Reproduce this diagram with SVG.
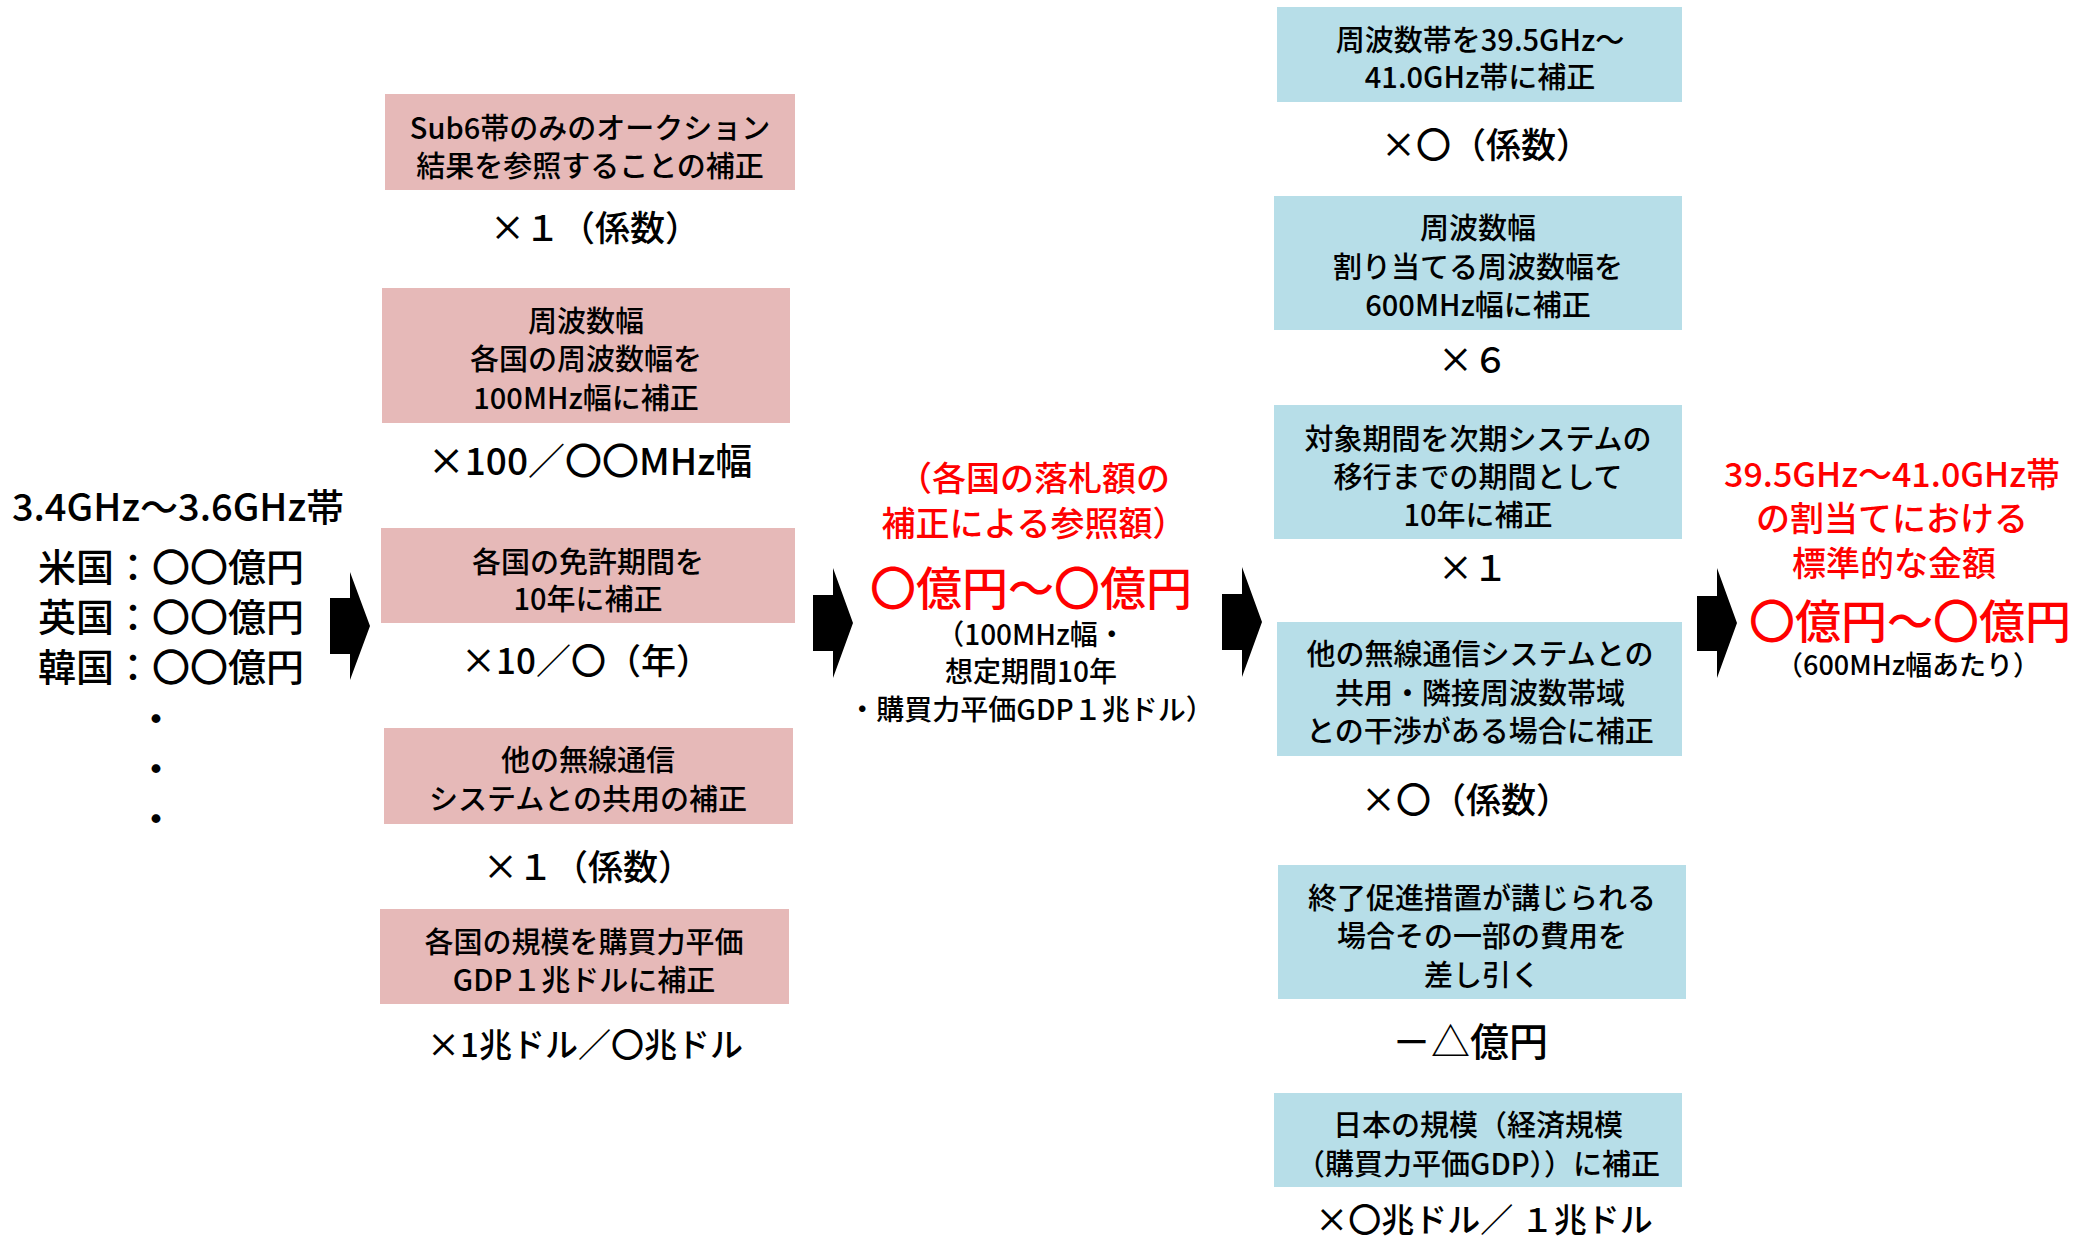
<svg xmlns="http://www.w3.org/2000/svg" width="2075" height="1239" viewBox="0 0 2075 1239">
<defs>
<style>
text{font-family:"Noto Sans CJK JP","Noto Sans",sans-serif;font-weight:500;text-anchor:middle;dominant-baseline:central;fill:#000}
.pk{fill:#E6B9B8}
.bl{fill:#B7DEE8}
.bx{font-size:29px}
.mul{font-size:35px}
.red{fill:#FF0000}
.arrow{fill:#000}
</style>
</defs>
<rect width="2075" height="1239" fill="#fff"/>

<g id="source">
<text x="178" y="504" style="font-size:38px">3.4GHz～3.6GHz帯</text>
<text x="171" y="564" style="font-size:38px">米国：〇〇億円</text>
<text x="171" y="614" style="font-size:38px">英国：〇〇億円</text>
<text x="171" y="664" style="font-size:38px">韓国：〇〇億円</text>
<text x="156" y="716" style="font-size:38px">・</text>
<text x="156" y="766" style="font-size:38px">・</text>
<text x="156" y="816" style="font-size:38px">・</text>
</g>

<g id="p1">
<rect class="pk" x="385" y="94" width="410" height="96"/>
<text class="bx" x="590" y="126">Sub6帯のみのオークション</text>
<text class="bx" x="590" y="164">結果を参照することの補正</text>
<text class="mul" x="595" y="225">×１（係数）</text>
</g>

<g id="p2">
<rect class="pk" x="382" y="288" width="408" height="135"/>
<text class="bx" x="586" y="319">周波数幅</text>
<text class="bx" x="586" y="357">各国の周波数幅を</text>
<text class="bx" x="586" y="396">100MHz幅に補正</text>
<text x="590" y="459" style="font-size:37px">×100／〇〇MHz幅</text>
</g>

<g id="p3">
<rect class="pk" x="381" y="528" width="414" height="95"/>
<text class="bx" x="588" y="560">各国の免許期間を</text>
<text class="bx" x="588" y="597">10年に補正</text>
<text class="mul" x="586" y="658">×10／〇（年）</text>
</g>

<g id="p4">
<rect class="pk" x="384" y="728" width="409" height="96"/>
<text class="bx" x="588" y="758">他の無線通信</text>
<text class="bx" x="588" y="797">システムとの共用の補正</text>
<text class="mul" x="588" y="864">×１（係数）</text>
</g>

<g id="p5">
<rect class="pk" x="380" y="909" width="409" height="95"/>
<text class="bx" x="584" y="940">各国の規模を購買力平価</text>
<text class="bx" x="584" y="978">GDP１兆ドルに補正</text>
<text x="585" y="1043" style="font-size:33px">×1兆ドル／〇兆ドル</text>
</g>

<g id="reference">
<text class="red" x="1034" y="476" style="font-size:34px">（各国の落札額の</text>
<text class="red" x="1034" y="521" style="font-size:34px">補正による参照額）</text>
<text class="red" x="1031" y="585" style="font-size:46px">〇億円～〇億円</text>
<text x="1031" y="633" style="font-size:28px">（100MHz幅・</text>
<text x="1031" y="670" style="font-size:28px">想定期間10年</text>
<text x="1031" y="708" style="font-size:28px">・購買力平価GDP１兆ドル）</text>
</g>

<g id="b1">
<rect class="bl" x="1277" y="7" width="405" height="95"/>
<text class="bx" x="1480" y="38">周波数帯を39.5GHz～</text>
<text class="bx" x="1480" y="75">41.0GHz帯に補正</text>
<text class="mul" x="1486" y="142">×〇（係数）</text>
</g>

<g id="b2">
<rect class="bl" x="1274" y="196" width="408" height="134"/>
<text class="bx" x="1478" y="226">周波数幅</text>
<text class="bx" x="1478" y="265">割り当てる周波数幅を</text>
<text class="bx" x="1478" y="303">600MHz幅に補正</text>
<text class="mul" x="1473" y="357">×６</text>
</g>

<g id="b3">
<rect class="bl" x="1274" y="405" width="408" height="134"/>
<text class="bx" x="1478" y="437">対象期間を次期システムの</text>
<text class="bx" x="1478" y="475">移行までの期間として</text>
<text class="bx" x="1478" y="513">10年に補正</text>
<text class="mul" x="1473" y="565">×１</text>
</g>

<g id="b4">
<rect class="bl" x="1277" y="622" width="405" height="134"/>
<text class="bx" x="1480" y="652">他の無線通信システムとの</text>
<text class="bx" x="1480" y="691">共用・隣接周波数帯域</text>
<text class="bx" x="1480" y="729">との干渉がある場合に補正</text>
<text class="mul" x="1466" y="797">×〇（係数）</text>
</g>

<g id="b5">
<rect class="bl" x="1278" y="865" width="408" height="134"/>
<text class="bx" x="1482" y="896">終了促進措置が講じられる</text>
<text class="bx" x="1482" y="934">場合その一部の費用を</text>
<text class="bx" x="1482" y="973">差し引く</text>
<text x="1470" y="1039" style="font-size:39px">－△億円</text>
</g>

<g id="b6">
<rect class="bl" x="1274" y="1093" width="408" height="94"/>
<text class="bx" x="1478" y="1123">日本の規模（経済規模</text>
<text class="bx" x="1478" y="1162">（購買力平価GDP））に補正</text>
<text x="1484" y="1218" style="font-size:33px">×〇兆ドル／ １兆ドル</text>
</g>

<g id="result">
<text class="red" x="1892" y="472" style="font-size:34px">39.5GHz～41.0GHz帯</text>
<text class="red" x="1892" y="516" style="font-size:34px">の割当てにおける</text>
<text class="red" x="1894" y="561" style="font-size:34px">標準的な金額</text>
<text class="red" x="1910" y="618" style="font-size:46px">〇億円～〇億円</text>
<text x="1908" y="663" style="font-size:27px">（600MHz幅あたり）</text>
</g>

<g id="connectors">
<path class="arrow" d="M330,598 H350 V572 L370,626 L350,680 V654 H330 Z"/>
<path class="arrow" d="M813,595 H833 V568 L853,623 L833,678 V651 H813 Z"/>
<path class="arrow" d="M1222,594 H1242 V567 L1262,622 L1242,677 V650 H1222 Z"/>
<path class="arrow" d="M1697,596 H1717 V568 L1737,623 L1717,678 V651 H1697 Z"/>
</g>
</svg>
